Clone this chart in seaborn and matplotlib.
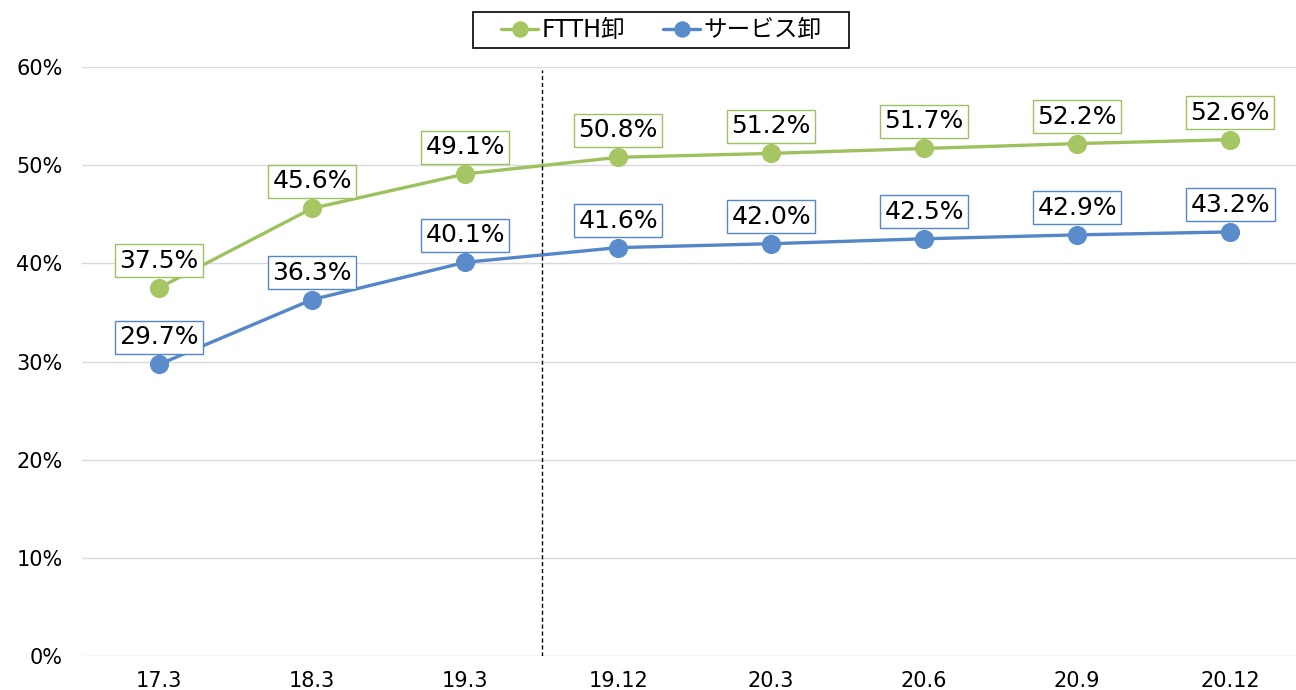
import matplotlib
matplotlib.use("Agg")
import matplotlib.pyplot as plt
from matplotlib.patches import Rectangle
import seaborn as sns
import pandas as pd

categories = ["17.3", "18.3", "19.3", "19.12", "20.3", "20.6", "20.9", "20.12"]
ftth = [37.5, 45.6, 49.1, 50.8, 51.2, 51.7, 52.2, 52.6]
service = [29.7, 36.3, 40.1, 41.6, 42.0, 42.5, 42.9, 43.2]
series_names = ["FTTH卸", "サービス卸"]
yticks = [0, 10, 20, 30, 40, 50, 60]

sns.set_theme(style="white")
plt.rcParams['font.family'] = ['DejaVu Sans', 'Noto Sans CJK JP']
plt.rcParams['text.color'] = 'black'
plt.rcParams['xtick.color'] = 'black'
plt.rcParams['ytick.color'] = 'black'

colors = ["#9DC15E", "#5387C8"]
marker_colors = ["#A5C663", "#5A8CCC"]

fig = plt.figure(figsize=(12.96, 6.9), dpi=100)
ax = fig.add_axes([82/1296, 1-656/690, 1-82/1296, (656-67)/690])

rows = []
for name, vals in zip(series_names, [ftth, service]):
    for i, v in enumerate(vals):
        rows.append({"x": i, "y": v / 100, "series": name})
df = pd.DataFrame(rows)

for name, c, mc in zip(series_names, colors, marker_colors):
    sub = df[df["series"] == name]
    sns.lineplot(data=sub, x="x", y="y", ax=ax, color=c, linewidth=2.4,
                 marker="o", markersize=13, markerfacecolor=mc, markeredgecolor=mc,
                 label=name, legend=False)
    for xi, yi in zip(sub["x"], sub["y"]):
        ax.annotate(f"{yi*100:.1f}%", (xi, yi), xytext=(0, 27), textcoords="offset pixels",
                    ha="center", va="center", fontsize=18, color="black",
                    bbox=dict(boxstyle="square,pad=0.18", fc="white", ec=c, lw=1.0))

ax.axvline(2.5, ymin=0, ymax=0.995, color="black", linestyle=(0, (3, 2)), linewidth=1.0)

ax.set_xlim(-0.503, 7.43)
ax.set_ylim(0, 0.6)
ax.set_yticks([t / 100 for t in yticks])
ax.set_yticklabels([f"{t}%" for t in yticks], fontsize=15, color="black")
ax.set_xticks(range(len(categories)))
ax.set_xticklabels(categories, fontsize=15, color="black")
ax.tick_params(axis="x", length=0, pad=11)
ax.tick_params(axis="y", length=0, pad=14)
ax.set_xlabel("")
ax.set_ylabel("")
ax.grid(axis="y", color="#D9D9D9", linewidth=1)
ax.grid(axis="x", visible=False)
for s in ax.spines.values():
    s.set_visible(False)

handles, labels = ax.get_legend_handles_labels()
leg = fig.legend(handles, labels, loc="center", bbox_to_anchor=(661.5/1296, 1-30/690), ncol=2,
                 fontsize=17, frameon=False, labelcolor="black",
                 handlelength=1.57, columnspacing=1.6, handletextpad=0.15, borderpad=0.2,
                 borderaxespad=0, markerscale=0.85)
fig.patches.append(Rectangle((473/1296, 1-48/690), 376/1296, 36/690, transform=fig.transFigure,
                             fill=False, edgecolor="black", linewidth=1.2))

fig.savefig("out.png", dpi=100)
